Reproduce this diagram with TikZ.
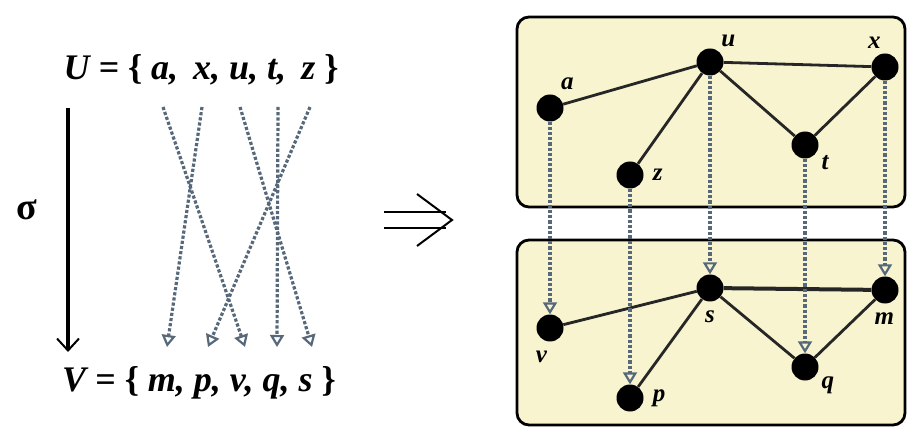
\documentclass[tikz,border=0pt]{standalone}
\usepackage{fontspec}
\setmainfont{Liberation Serif}
\usetikzlibrary{arrows.meta,positioning}
\definecolor{panel}{HTML}{F7F4CF}
\definecolor{mapline}{HTML}{56687A}

\newcommand{\lb}{\textup{\{}}
\newcommand{\rb}{\textup{\}}}

\begin{document}
\begin{tikzpicture}[x=1pt, y=-1pt,
  vert/.style={circle, fill=black, inner sep=0pt, minimum size=27pt},
  lbl/.style={font=\fontsize{25}{28}\selectfont\bfseries\itshape, inner sep=1pt},
  setlbl/.style={font=\fontsize{36}{40}\selectfont\bfseries\itshape, inner sep=0pt},
  edge/.style={line width=2.8pt, black!85},
  map/.style={dotted, line width=3.2pt, mapline, -{Triangle[open, length=12pt, width=14pt, line width=2.2pt]}},
  box/.style={draw, line width=2.8pt, rounded corners=12pt, fill=panel}
]
  \useasboundingbox (0,0) rectangle (909,427);

  % left: the two sets and sigma
  \node[setlbl] (U) at (201,70) {U = \lb\ a, \,x, u, t, \,z \rb};
  \node[setlbl] (V) at (199,383) {V = \lb\ m, p, v, q, s \rb};
  \node[font=\fontsize{38}{40}\selectfont\bfseries] (sigma) at (27,210) {σ};
  \coordinate (sigtop) at (68,108);
  \coordinate (sigbot) at (68,352);
  \draw[line width=3.4pt, -{Straight Barb[length=12pt, width=22pt, line width=2pt]}] (sigtop) -- (sigbot);

  \coordinate (Ua) at (163,107);  \coordinate (Vv) at (245,347);
  \coordinate (Ux) at (202,107);  \coordinate (Vm) at (167,347);
  \coordinate (Uu) at (240,107);  \coordinate (Vs) at (312,347);
  \coordinate (Ut) at (278,107);  \coordinate (Vq) at (277,347);
  \coordinate (Uz) at (310,107);  \coordinate (Vp) at (208,347);
  \draw[map] (Ua) -- (Vv);
  \draw[map] (Ux) -- (Vm);
  \draw[map] (Uu) -- (Vs);
  \draw[map] (Ut) -- (Vq);
  \draw[map] (Uz) -- (Vp);

  % implies
  \coordinate (imp) at (452,220);
  \draw[line width=2pt] (384,212) -- (446,212) (384,228) -- (446,228);
  \draw[line width=2pt] (417,194) -- (imp) -- (417,246);

  % right: the two graphs
  \draw[box] (517,17) rectangle (905,207);
  \draw[box] (517,240) rectangle (905,425);

  \node[vert, label={[lbl, label distance=6pt]60:a}] (a) at (550,108) {};
  \node[vert, label={[lbl, label distance=4pt]55:u}] (u) at (710,62) {};
  \node[vert, label={[lbl, label distance=4pt]100:x}] (x) at (885,67) {};
  \node[vert, label={[lbl, label distance=4pt]-30:t}] (t) at (805,145) {};
  \node[vert, label={[lbl, label distance=8pt]0:z}] (z) at (630,175) {};

  \node[vert, label={[lbl, label distance=8pt]-95:v}] (v) at (550,328) {};
  \node[vert, label={[lbl, label distance=8pt]-90:s}] (s) at (710,288) {};
  \node[vert, label={[lbl, label distance=8pt]-92:m}] (m) at (885,290) {};
  \node[vert, label={[lbl, label distance=4pt]-30:q}] (q) at (805,367) {};
  \node[vert, label={[lbl, label distance=8pt]0:p}] (p) at (630,398) {};

  \draw[edge] (a) -- (u);
  \draw[edge] (u) -- (x);
  \draw[edge] (u) -- (z);
  \draw[edge] (u) -- (t);
  \draw[edge] (t) -- (x);

  \draw[edge] (v) -- (s);
  \draw[edge, line width=4pt] (s) -- (m);
  \draw[edge] (s) -- (p);
  \draw[edge] (s) -- (q);
  \draw[edge] (q) -- (m);

  \draw[map] (a) -- (v);
  \draw[map] (z) -- (p);
  \draw[map] (u) -- (s);
  \draw[map] (t) -- (q);
  \draw[map] (x) -- (m);
\end{tikzpicture}
\end{document}
